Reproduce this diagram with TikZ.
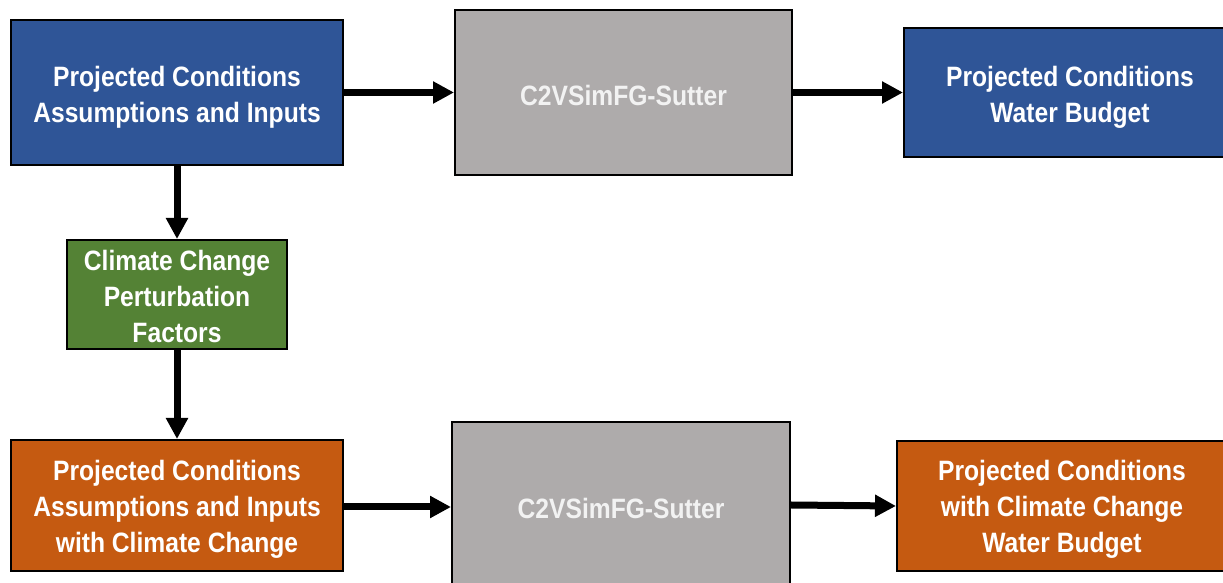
\documentclass[tikz,border=0pt]{standalone}
\usepackage{fontspec}
\setmainfont{Liberation Sans}[FakeStretch=0.88]
\usetikzlibrary{arrows.meta}
\definecolor{cblue}{HTML}{2F5597}
\definecolor{cgray}{HTML}{AEABAB}
\definecolor{cgreen}{HTML}{548235}
\definecolor{corange}{HTML}{C55A11}
\definecolor{ctxtgray}{HTML}{F2F2F2}
\tikzset{
  box/.style={draw=black, line width=2pt, inner sep=0pt},
  bluebox/.style={box, fill=cblue},
  graybox/.style={box, fill=cgray},
  greenbox/.style={box, fill=cgreen},
  orangebox/.style={box, fill=corange},
  txt/.style={align=center, inner sep=0pt, text=white,
    font=\fontsize{28}{36}\selectfont\bfseries},
  graytxt/.style={txt, text=ctxtgray},
  flow/.style={line width=7pt, -{Triangle[length=21pt,width=21pt]}}
}
\begin{document}
\begin{tikzpicture}[x=1pt,y=1pt]
\useasboundingbox (0,0) rectangle (1223,583);
\clip (0,0) rectangle (1223,583);
\node[bluebox, minimum width=332pt, minimum height=145pt] (A) at (177,490.5) {};
\node[txt, yshift=-5pt] (At) at (A) {Projected Conditions\\Assumptions and Inputs};
\node[graybox, minimum width=337pt, minimum height=165pt] (B) at (623.5,490.5) {};
\node[graytxt, yshift=-3pt] (Bt) at (B) {C2VSimFG-Sutter};
\node[bluebox, minimum width=332pt, minimum height=129pt] (C) at (1070,490.5) {};
\node[txt, yshift=-5pt] (Ct) at (C) {Projected Conditions\\Water Budget};
\node[greenbox, minimum width=220pt, minimum height=109pt] (D) at (177,288.5) {};
\node[txt, yshift=-1.5pt] (Dt) at (D) {Climate Change\\Perturbation\\Factors};
\node[orangebox, minimum width=332pt, minimum height=131pt] (E) at (177,77.5) {};
\node[txt, yshift=-4pt] (Et) at (E) {Projected Conditions\\Assumptions and Inputs\\with Climate Change};
\node[graybox, minimum width=338pt, minimum height=172pt] (F) at (621,75) {};
\node[graytxt, yshift=0pt] (Ft) at (F) {C2VSimFG-Sutter};
\node[orangebox, minimum width=330pt, minimum height=130pt] (G) at (1062,77) {};
\node[txt, yshift=-3.5pt] (Gt) at (G) {Projected Conditions\\with Climate Change\\Water Budget};
\draw[flow] (A) -- (B);
\draw[flow] (B) -- (C);
\draw[flow] (A) -- (D);
\draw[flow] (D) -- (E);
\draw[flow] (E.east |- 0,76) -- (F.west |- 0,76);
\draw[flow] ([yshift=3pt]F.east) -- (G.west);
\end{tikzpicture}
\end{document}
